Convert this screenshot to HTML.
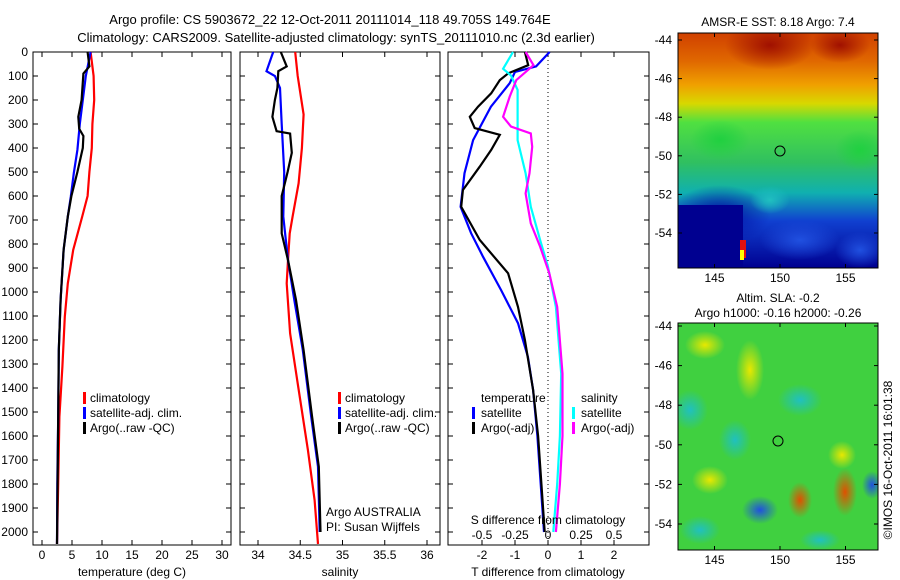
<!DOCTYPE html>
<html><head><meta charset="utf-8"><style>
body{margin:0;background:#fff;}
svg{display:block;font-family:"Liberation Sans",sans-serif;}
</style></head><body>
<svg id="c" width="900" height="580" viewBox="0 0 900 580">
<defs>
<linearGradient id="sst" x1="0" y1="0" x2="0" y2="1">
<stop offset="0" stop-color="#d04000"/><stop offset="0.12" stop-color="#e06800"/>
<stop offset="0.22" stop-color="#f0a000"/><stop offset="0.3" stop-color="#d8d800"/>
<stop offset="0.38" stop-color="#50e040"/><stop offset="0.55" stop-color="#30c060"/>
<stop offset="0.68" stop-color="#10b0b0"/><stop offset="0.8" stop-color="#1040d0"/>
<stop offset="1" stop-color="#000090"/></linearGradient>
<radialGradient id="yel"><stop offset="0" stop-color="#e8e800"/><stop offset="1" stop-color="#e8e800" stop-opacity="0"/></radialGradient>
<radialGradient id="org"><stop offset="0" stop-color="#e05000"/><stop offset="1" stop-color="#e05000" stop-opacity="0"/></radialGradient>
<radialGradient id="red"><stop offset="0" stop-color="#a01000"/><stop offset="1" stop-color="#a01000" stop-opacity="0"/></radialGradient>
<radialGradient id="blu"><stop offset="0" stop-color="#2050e0"/><stop offset="1" stop-color="#2050e0" stop-opacity="0"/></radialGradient>
<radialGradient id="dblu"><stop offset="0" stop-color="#0010a0"/><stop offset="1" stop-color="#0010a0" stop-opacity="0"/></radialGradient>
<radialGradient id="cya"><stop offset="0" stop-color="#20c0c0"/><stop offset="1" stop-color="#20c0c0" stop-opacity="0"/></radialGradient>
<radialGradient id="grn"><stop offset="0" stop-color="#20d040"/><stop offset="1" stop-color="#20d040" stop-opacity="0"/></radialGradient>
<clipPath id="cm1"><rect x="678" y="33" width="200" height="235"/></clipPath>
<clipPath id="cm2"><rect x="678" y="323" width="200" height="227"/></clipPath>
</defs>
<g font-size="13" text-anchor="middle">
<text x="330" y="24">Argo profile: CS 5903672_22 12-Oct-2011 20111014_118 49.705S 149.764E</text>
<text x="336" y="42">Climatology: CARS2009. Satellite-adjusted climatology: synTS_20111010.nc (2.3d earlier)</text>
</g>
<g id="panels"></g>
<g id="maps">
<g clip-path="url(#cm1)">
<rect x="678" y="33" width="200" height="235" fill="url(#sst)"/>
<ellipse cx="770" cy="45" rx="45" ry="25" fill="url(#red)"/>
<ellipse cx="840" cy="45" rx="30" ry="18" fill="url(#red)"/>
<ellipse cx="720" cy="140" rx="30" ry="20" fill="url(#grn)"/>
<ellipse cx="860" cy="150" rx="25" ry="20" fill="url(#grn)"/>
<ellipse cx="720" cy="215" rx="50" ry="30" fill="url(#dblu)"/>
<rect x="678" y="205" width="65" height="63" fill="#000090"/>
<ellipse cx="800" cy="240" rx="40" ry="20" fill="url(#blu)"/>
<ellipse cx="860" cy="250" rx="25" ry="18" fill="url(#blu)"/>
<ellipse cx="770" cy="200" rx="20" ry="14" fill="url(#cya)"/>
<rect x="740" y="240" width="6" height="18" fill="#e01010"/>
<rect x="740" y="250" width="4" height="10" fill="#ffff00"/>
</g>
<circle cx="780" cy="151" r="5" fill="none" stroke="#000"/>
<rect x="678" y="33" width="200" height="235" fill="none" stroke="#000"/>
<g clip-path="url(#cm2)">
<rect x="678" y="323" width="200" height="227" fill="#40d040"/>
<ellipse cx="750" cy="370" rx="14" ry="30" fill="url(#yel)"/>
<ellipse cx="705" cy="345" rx="20" ry="14" fill="url(#yel)"/>
<ellipse cx="690" cy="410" rx="18" ry="20" fill="url(#cya)"/>
<ellipse cx="735" cy="440" rx="16" ry="20" fill="url(#cya)"/>
<ellipse cx="800" cy="400" rx="22" ry="16" fill="url(#cya)"/>
<ellipse cx="800" cy="500" rx="12" ry="18" fill="url(#org)"/>
<ellipse cx="845" cy="492" rx="12" ry="24" fill="url(#org)"/>
<ellipse cx="842" cy="455" rx="14" ry="14" fill="url(#yel)"/>
<ellipse cx="872" cy="485" rx="10" ry="14" fill="url(#blu)"/>
<ellipse cx="760" cy="510" rx="18" ry="14" fill="url(#blu)"/>
<ellipse cx="710" cy="480" rx="18" ry="14" fill="url(#yel)"/>
<ellipse cx="700" cy="530" rx="20" ry="14" fill="url(#cya)"/>
<ellipse cx="820" cy="540" rx="20" ry="10" fill="url(#cya)"/>
</g>
<circle cx="778" cy="441" r="5" fill="none" stroke="#000"/>
<rect x="678" y="323" width="200" height="227" fill="none" stroke="#000"/>
<g font-size="12" text-anchor="middle">
<text x="778" y="26">AMSR-E SST: 8.18 Argo: 7.4</text>
<text x="778" y="302">Altim. SLA: -0.2</text>
<text x="778" y="317">Argo h1000: -0.16 h2000: -0.26</text>
</g>
<text transform="translate(892,460) rotate(-90)" font-size="12" text-anchor="middle">©IMOS 16-Oct-2011 16:01:38</text>
</g>
<script>
// ---- data ----
const tClimDepth=[0,100,200,300,400,500,600,686,825,964,1103,1311,1520,1797,2050];
const tClim=[8.1,8.6,8.7,8.4,8.3,7.9,7.6,6.7,5.2,4.3,3.8,3.4,2.9,2.7,2.5];
const tSatDepth=[0,100,200,300,408,505,603,686,825,1033,1242,1520,1800,2050];
const tSat=[8.1,7.3,6.8,6.3,5.9,5.3,4.8,4.3,3.6,3.1,2.8,2.7,2.55,2.5];
const tArgoDepth=[0,60,90,200,270,320,350,400,500,600,686,825,1033,1242,1520,2050];
const tArgo=[7.6,7.9,6.9,6.6,6.05,6.2,6.9,6.8,5.9,4.9,4.3,3.6,3.1,2.8,2.7,2.5];
const sClimDepth=[0,100,260,400,547,686,756,867,964,1172,1381,1658,1867,2050];
const sClim=[34.44,34.47,34.54,34.52,34.48,34.41,34.375,34.355,34.34,34.38,34.47,34.59,34.67,34.71];
const sSatDepth=[0,80,100,150,300,500,686,867,1033,1242,1520,1728,2000];
const sSat=[34.18,34.10,34.2,34.26,34.28,34.31,34.30,34.355,34.43,34.53,34.63,34.71,34.73];
const sArgoDepth=[0,60,80,150,200,270,330,340,420,500,600,756,867,1033,1242,1520,1728,2000];
const sArgo=[34.27,34.34,34.24,34.23,34.2,34.17,34.22,34.38,34.40,34.35,34.28,34.28,34.355,34.45,34.54,34.64,34.72,34.74];
const dTSatDepth=[0,60,83,130,228,367,505,645,755,853,992,1130,1270,1408,1600,1800,2000];
const dTSat=[0.05,-0.36,-1.0,-1.16,-1.73,-2.27,-2.53,-2.65,-2.33,-1.97,-1.42,-0.91,-0.61,-0.45,-0.32,-0.22,-0.12];
const dTArgoDepth=[0,55,89,117,172,228,270,317,345,408,478,575,645,783,922,1062,1200,1408,1600,1800,2000];
const dTArgo=[-0.7,-0.6,-1.21,-1.46,-1.72,-2.12,-2.37,-2.22,-1.46,-1.72,-2.07,-2.58,-2.63,-2.07,-1.21,-0.91,-0.7,-0.45,-0.3,-0.2,-0.1];
const dSSatDepth=[0,70,98,158,367,505,645,783,895,1062,1340,1600,1800,2000];
const dSSat=[-0.265,-0.34,-0.28,-0.23,-0.23,-0.17,-0.13,-0.06,0,0.06,0.1,0.09,0.07,0.04];
const dSArgoDepth=[0,55,117,186,270,311,339,395,505,589,714,811,922,1062,1340,1600,1800,2000];
const dSArgo=[-0.17,-0.11,-0.24,-0.29,-0.34,-0.28,-0.13,-0.12,-0.14,-0.17,-0.13,-0.06,0.01,0.07,0.11,0.11,0.09,0.06];
const depthTicks=[0,100,200,300,400,500,600,700,800,900,1000,1100,1200,1300,1400,1500,1600,1700,1800,1900,2000];
const tTicks=[0,5,10,15,20,25,30];
const sTicks=[34,34.5,35,35.5,36];
const dTTicks=[-2,-1,0,1,2];
const dSTicks=[-0.5,-0.25,0,0.25,0.5];
const dSTickLabels=['-0.5','-0.25','0','0.25','0.5'];
const latTicks=[-44,-46,-48,-50,-52,-54];
const lonTicks=[145,150,155];
// ---- drawing ----
const NS='http://www.w3.org/2000/svg';
const root=document.getElementById('panels');
function mk(tag,attrs,parent){const e=document.createElementNS(NS,tag);for(const k in attrs)e.setAttribute(k,attrs[k]);(parent||root).appendChild(e);return e;}
const top0=52,bot=545;
const Y=d=>top0+d*0.24;
const xT=v=>42+v*6, xS=v=>258+(v-34)*84.5, xD=v=>548+v*33, xDS=v=>548+v*132;
function line(xs,ds,xf,color,name){
  const p=xs.map((v,i)=>(i?'L':'M')+xf(v).toFixed(1)+','+Y(ds[i]).toFixed(1)).join('');
  const e=mk('path',{d:p,fill:'none',stroke:color,'stroke-width':2.2});
  
  
}
function frame(x0,x1,name){
  const e=mk('rect',{x:x0,y:top0,width:x1-x0,height:bot-top0,fill:'none',stroke:'#000'});
  
  
  depthTicks.forEach(d=>{mk('line',{x1:x0,x2:x0+5,y1:Y(d),y2:Y(d),stroke:'#000'});mk('line',{x1:x1,x2:x1-5,y1:Y(d),y2:Y(d),stroke:'#000'});});
}
function xticks(vals,xf,y,name){
  vals.forEach((v)=>{
    mk('line',{x1:xf(v),x2:xf(v),y1:bot,y2:bot-5,stroke:'#000'});
    mk('line',{x1:xf(v),x2:xf(v),y1:top0,y2:top0+5,stroke:'#000'});
    const t=mk('text',{x:xf(v),y:y,'font-size':12,'text-anchor':'middle'});t.textContent=String(v);
    
    
  });
}
function txt(x,y,s,name,anchor){const t=mk('text',{x:x,y:y,'font-size':12,'text-anchor':anchor||'start'});t.textContent=s;
  
  return t;}
function bar(x,y,c){mk('rect',{x:x,y:y-10,width:3,height:12,fill:c});}
// panel 1
frame(33,231,'temperature-panel');
depthTicks.forEach(d=>{txt(28,Y(d)+4,String(d),'depth-tick-label','end');});
xticks(tTicks,xT,559,'temperature-tick-label');
line(tClim,tClimDepth,xT,'#ff0000','temperature-climatology-line');
line(tSat,tSatDepth,xT,'#0000ff','temperature-satellite-line');
line(tArgo,tArgoDepth,xT,'#000','temperature-argo-line');
txt(132,576,'temperature (deg C)','temperature-axis-title','middle');
bar(83,402,'#f00');txt(90,402,'climatology','legend-climatology');
bar(83,417,'#00f');txt(90,417,'satellite-adj. clim.','legend-satellite');
bar(83,432,'#000');txt(90,432,'Argo(..raw -QC)','legend-argo');
// panel 2
frame(240,440,'salinity-panel');
xticks(sTicks,xS,559,'salinity-tick-label');
line(sClim,sClimDepth,xS,'#ff0000','salinity-climatology-line');
line(sSat,sSatDepth,xS,'#0000ff','salinity-satellite-line');
line(sArgo,sArgoDepth,xS,'#000','salinity-argo-line');
txt(340,576,'salinity','salinity-axis-title','middle');
bar(338,402,'#f00');txt(345,402,'climatology','legend-climatology-2');
bar(338,417,'#00f');txt(345,417,'satellite-adj. clim.','legend-satellite-2');
bar(338,432,'#000');txt(345,432,'Argo(..raw -QC)','legend-argo-2');
txt(326,516,'Argo AUSTRALIA','argo-country');
txt(326,531,'PI: Susan Wijffels','principal-investigator');
// panel 3
frame(448,649,'difference-panel');
mk('line',{x1:xD(0),x2:xD(0),y1:top0,y2:bot,stroke:'#000','stroke-dasharray':'1,3'});
xticks(dTTicks,xD,559,'t-diff-tick-label');
dSTicks.forEach((v,i)=>{txt(xDS(v),539,dSTickLabels[i],'s-diff-tick-label','middle');});
line(dTSat,dTSatDepth,xD,'#0000ff','t-diff-satellite-line');
line(dTArgo,dTArgoDepth,xD,'#000','t-diff-argo-line');
line(dSSat,dSSatDepth,xDS,'#00ffff','s-diff-satellite-line');
line(dSArgo,dSArgoDepth,xDS,'#ff00ff','s-diff-argo-line');
txt(548,524,'S difference from climatology','s-diff-axis-title','middle');
txt(548,576,'T difference from climatology','t-diff-axis-title','middle');
txt(481,402,'temperature','legend-temperature-header');
bar(472,417,'#00f');txt(481,417,'satellite','legend-t-satellite');
bar(472,432,'#000');txt(481,432,'Argo(-adj)','legend-t-argo');
txt(581,402,'salinity','legend-salinity-header');
bar(572,417,'#0ff');txt(581,417,'satellite','legend-s-satellite');
bar(572,432,'#f0f');txt(581,432,'Argo(-adj)','legend-s-argo');
// map axes
const maps=document.getElementById('maps');
function mapAxes(y0,y1,latY,name){
  latTicks.forEach(l=>{const y=latY(l);
    mk('line',{x1:678,x2:682,y1:y,y2:y,stroke:'#000'},maps);mk('line',{x1:878,x2:874,y1:y,y2:y,stroke:'#000'},maps);
    const t=mk('text',{x:672,y:y+4,'font-size':12,'text-anchor':'end'},maps);t.textContent=String(l);
    
    });
  lonTicks.forEach(l=>{const x=780+(l-150)*13.1;
    mk('line',{x1:x,x2:x,y1:y1,y2:y1-4,stroke:'#000'},maps);mk('line',{x1:x,x2:x,y1:y0,y2:y0+4,stroke:'#000'},maps);
    const t=mk('text',{x:x,y:y1+14,'font-size':12,'text-anchor':'middle'},maps);t.textContent=String(l);
    
    });
}
mapAxes(33,268,l=>40+(-44-l)*19.3,'sst-map');
mapAxes(323,550,l=>326+(-44-l)*19.8,'sla-map');
</script>
</svg>
</body></html>
